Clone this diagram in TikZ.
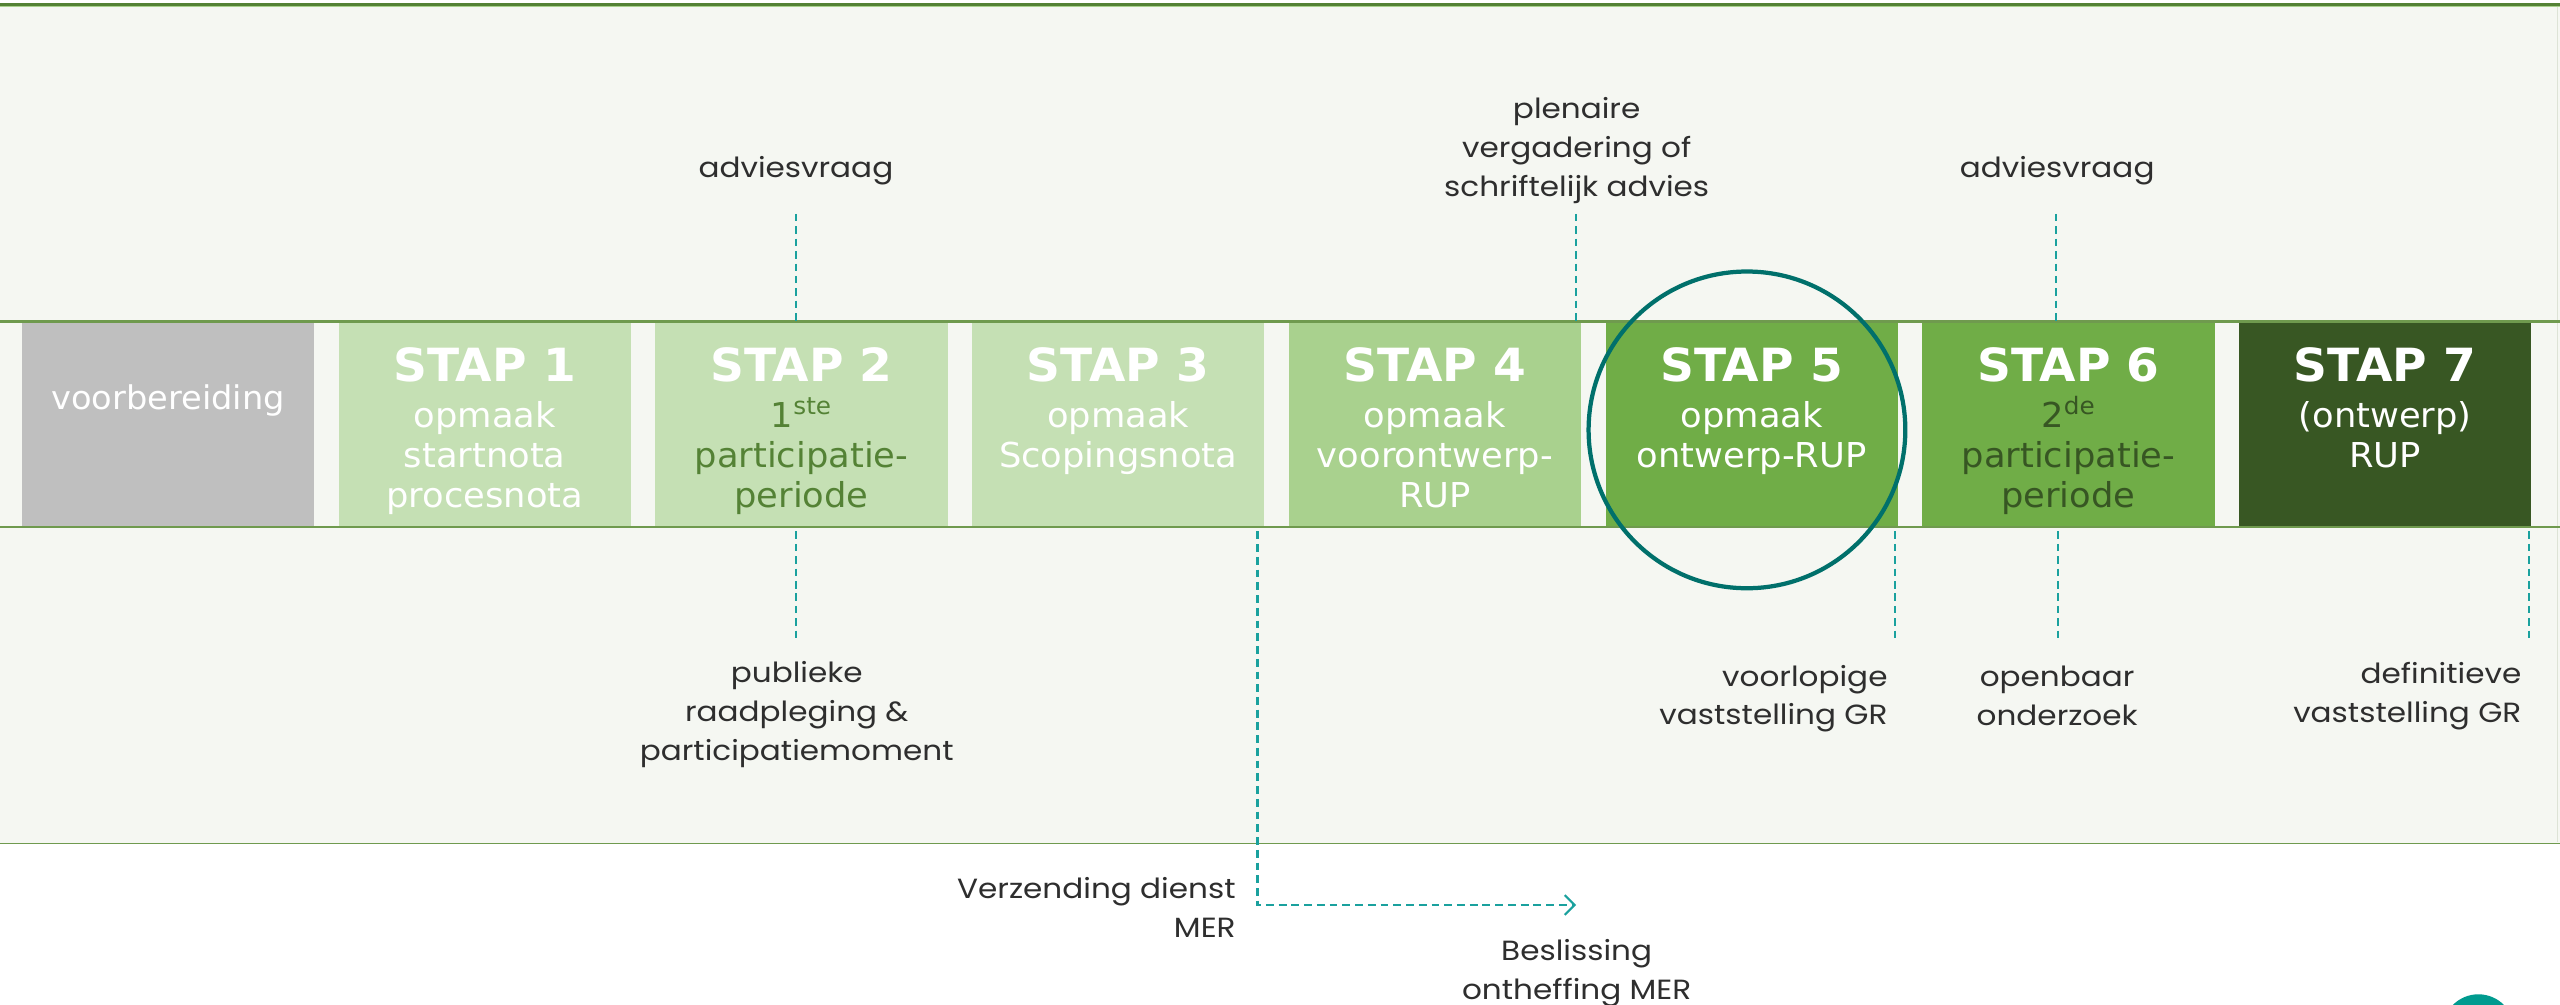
\documentclass[tikz,border=0pt]{standalone}
\usepackage{fontspec}
\setmainfont{Poppins}[FakeStretch=1.12]
\newfontfamily\boxfont{DejaVu Sans}[FakeStretch=1.03]
\usetikzlibrary{arrows.meta}
\definecolor{bandbg}{HTML}{F5F7F2}
\definecolor{bandline}{HTML}{6F9A4E}
\definecolor{topline}{HTML}{548235}
\definecolor{toplight}{HTML}{A9D18E}
\definecolor{edgegray}{HTML}{DDE3D6}
\definecolor{gr0}{HTML}{BFBFBF}
\definecolor{gr1}{HTML}{C5E0B4}
\definecolor{gr4}{HTML}{A9D18E}
\definecolor{gr5}{HTML}{70AD47}
\definecolor{gr7}{HTML}{385723}
\definecolor{dk2}{HTML}{548235}
\definecolor{dk6}{HTML}{375623}
\definecolor{ring}{HTML}{00706B}
\definecolor{dashc}{HTML}{1AA19E}
\definecolor{badgec}{HTML}{009B8F}
\definecolor{txt}{HTML}{2E2E2E}
\tikzset{
  stepbox/.style={rectangle, draw=none, minimum width=179pt, minimum height=126pt, inner sep=0pt},
  steptext/.style={anchor=north, align=center, inner sep=0pt, text=white,
    font=\boxfont\fontsize{21}{24.5}\selectfont},
  lbl/.style={align=center, text=txt, inner sep=0pt, font=\fontsize{17}{23.8}\selectfont},
  guide/.style={draw=dashc, line width=1.1pt, dash pattern=on 4.6pt off 3pt},
  merguide/.style={draw=dashc, line width=1.3pt, dash pattern=on 4.8pt off 3pt},
}
\newcommand{\stapline}[1]{\rule{0pt}{22pt}{\fontsize{28}{28}\selectfont\bfseries #1}\\[3.8pt]}
\newcommand{\lblstrut}{\rule{0pt}{16pt}}
\begin{document}
\begin{tikzpicture}[x=1pt, y=-1pt]
\useasboundingbox (0,0) rectangle (1568,615);
% background
\fill[white] (0,0) rectangle (1568,615);
\fill[bandbg] (0,3) rectangle (1568,517);
\draw[topline, line width=1.4pt] (0,2.8) -- (1568,2.8);
\draw[toplight, line width=0.8pt] (0,4.1) -- (1568,4.1);
\draw[bandline, line width=1.1pt] (0,516.6) -- (1568,516.6);
\draw[edgegray, line width=0.6pt] (1566.5,4.5) -- (1566.5,516);

% step boxes
\node[stepbox, fill=gr0] (b0) at (102.9,260.5) {};
\node[stepbox, fill=gr1] (b1) at (296.9,260.5) {};
\node[stepbox, fill=gr1] (b2) at (490.9,260.5) {};
\node[stepbox, fill=gr1] (b3) at (684.9,260.5) {};
\node[stepbox, fill=gr4] (b4) at (878.9,260.5) {};
\node[stepbox, fill=gr5] (b5) at (1072.9,260.5) {};
\node[stepbox, fill=gr5] (b6) at (1266.9,260.5) {};
\node[stepbox, fill=gr7] (b7) at (1460.9,260.5) {};

% strip lines
\draw[bandline, line width=1.4pt] (0,197) -- (1568,197);
\draw[bandline, line width=1.4pt] (0,322.6) -- (1568,322.6);

% step texts
\node[steptext, anchor=base, font=\boxfont\fontsize{20}{24}\selectfont] (t0) at (102.9,251) {voorbereiding};
\node[steptext] (t1) at (296.9,211.2) {\stapline{STAP 1}opmaak\\startnota\\procesnota};
\node[steptext] (t2) at (490.9,211.2) {\stapline{STAP 2}\color{dk2}1\textsuperscript{ste}\\\color{dk2}participatie-\\\color{dk2}periode};
\node[steptext] (t3) at (684.9,211.2) {\stapline{STAP 3}opmaak\\Scopingsnota};
\node[steptext] (t4) at (878.9,211.2) {\stapline{STAP 4}opmaak\\voorontwerp-\\RUP};
\node[steptext] (t5) at (1072.9,211.2) {\stapline{STAP 5}opmaak\\ontwerp-RUP};
\node[steptext] (t6) at (1266.9,211.2) {\stapline{STAP 6}\color{dk6}2\textsuperscript{de}\\\color{dk6}participatie-\\\color{dk6}periode};
\node[steptext] (t7) at (1460.9,211.2) {\stapline{STAP 7}(ontwerp)\\RUP};

% focus ring
\node[circle, draw=ring, line width=2.6pt, minimum size=194pt, inner sep=0pt] (focus) at (1070,263.3) {};

% labels above
\node[lbl, anchor=north] (adv1) at (487.5,92.6) {\lblstrut adviesvraag};
\node[lbl, anchor=north] (plen) at (965.7,56.4) {\lblstrut plenaire\\vergadering of\\schriftelijk advies};
\node[lbl, anchor=north] (adv2) at (1260,92.6) {\lblstrut adviesvraag};
% labels below
\node[lbl, anchor=north] (pub) at (488,401.8) {\lblstrut publieke\\raadpleging \&\\participatiemoment};
\node[lbl, anchor=north east, align=right] (voorl) at (1156.3,404) {\lblstrut voorlopige\\vaststelling GR};
\node[lbl, anchor=north] (openb) at (1260,404.4) {\lblstrut openbaar\\onderzoek};
\node[lbl, anchor=north east, align=right] (defin) at (1544.5,402.5) {\lblstrut definitieve\\vaststelling GR};
\node[lbl, anchor=north east, align=right] (verz) at (757,534) {\lblstrut Verzending dienst\\MER};
\node[lbl, anchor=north] (besl) at (965.7,572) {\lblstrut Beslissing\\ontheffing MER};

% guide end points
\coordinate (ga1) at (487.5,131);   \coordinate (gb1) at (487.5,196.5);
\coordinate (ga2) at (965.5,131);   \coordinate (gb2) at (965.5,196.5);
\coordinate (ga3) at (1259.5,131);  \coordinate (gb3) at (1259.5,196.5);
\coordinate (gc1) at (487.5,325.5); \coordinate (gd1) at (487.5,391.5);
\coordinate (gc2) at (1160.5,325.5);\coordinate (gd2) at (1160.5,391.5);
\coordinate (gc3) at (1260.5,325.5);\coordinate (gd3) at (1260.5,391.5);
\coordinate (gc4) at (1549,325.5);  \coordinate (gd4) at (1549,391.5);
\coordinate (m1) at (770.2,325.5);
\coordinate (m2) at (770.2,554.3);
\coordinate (m3) at (965.3,554.3);

\draw[guide] (ga1) -- (gb1);
\draw[guide] (ga2) -- (gb2);
\draw[guide] (ga3) -- (gb3);
\draw[guide] (gc1) -- (gd1);
\draw[guide] (gc2) -- (gd2);
\draw[guide] (gc3) -- (gd3);
\draw[guide] (gc4) -- (gd4);
\draw[merguide, -{Straight Barb[length=6pt, width=12pt]}] (m1) -- (m2) -- (m3);

% corner badge
\node[circle, fill=badgec, minimum size=44pt, inner sep=0pt] (badge) at (1518,631) {};
\end{tikzpicture}
\end{document}
